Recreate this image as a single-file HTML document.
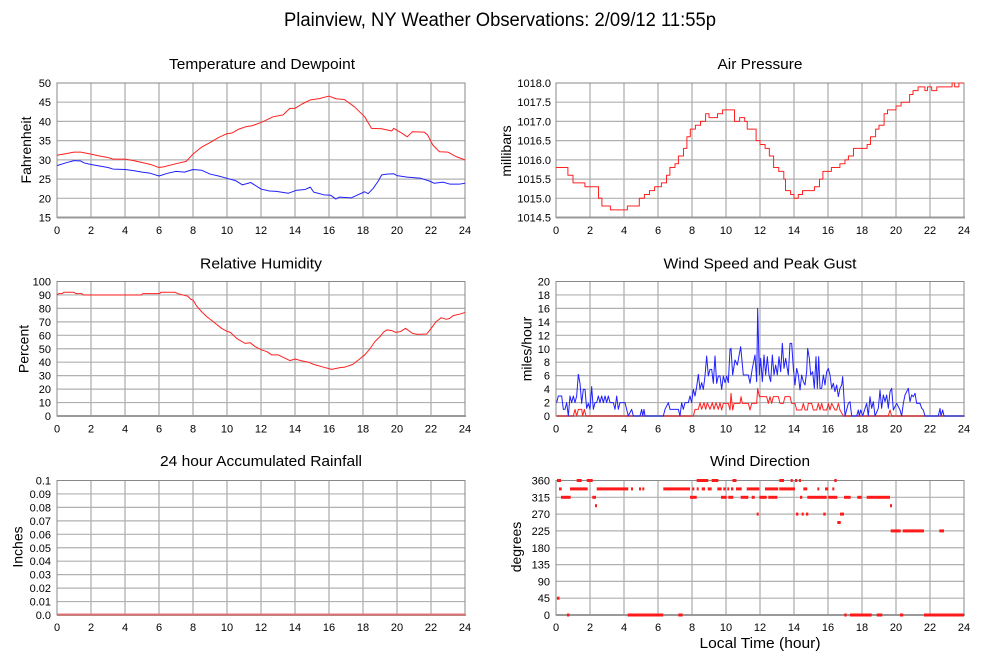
<!DOCTYPE html>
<html><head><meta charset="utf-8"><style>
html,body{margin:0;padding:0;background:#fff;}
svg{display:block;}
text{font-family:"Liberation Sans",Arial,sans-serif;fill:#000;}
.ty{font-size:11px;text-anchor:end;}
.tx{font-size:11px;text-anchor:middle;}
.pt{font-size:15px;text-anchor:middle;}
.ax{font-size:14px;text-anchor:middle;}
.gv{stroke:#999;stroke-width:1;fill:none;}
.gh{stroke:#b0b0b0;stroke-width:1.2;fill:none;}
.fr{stroke:#888;stroke-width:1;fill:none;}
.bt{stroke:#999;stroke-width:2;fill:none;}
.s{fill:none;stroke-width:1;vector-effect:non-scaling-stroke;stroke-linejoin:round;}
.r{stroke:#ff2020;}
.b{stroke:#2020ff;}
</style></head><body>
<svg width="999" height="659" viewBox="0 0 999 659" xmlns="http://www.w3.org/2000/svg">
<rect width="999" height="659" fill="#fff"/>
<text x="500" y="26" style="font-size:19px;text-anchor:middle" textLength="432" lengthAdjust="spacingAndGlyphs">Plainview, NY Weather Observations: 2/09/12 11:55p</text>

<text class="pt" x="262" y="69" textLength="186" lengthAdjust="spacingAndGlyphs">Temperature and Dewpoint</text>
<text class="pt" x="760" y="69" textLength="85" lengthAdjust="spacingAndGlyphs">Air Pressure</text>
<text class="pt" x="261" y="268.5" textLength="122" lengthAdjust="spacingAndGlyphs">Relative Humidity</text>
<text class="pt" x="760" y="268.5" textLength="193" lengthAdjust="spacingAndGlyphs">Wind Speed and Peak Gust</text>
<text class="pt" x="261" y="466" textLength="202" lengthAdjust="spacingAndGlyphs">24 hour Accumulated Rainfall</text>
<text class="pt" x="760" y="466" textLength="100" lengthAdjust="spacingAndGlyphs">Wind Direction</text>
<text class="pt" x="760" y="648" textLength="121" lengthAdjust="spacingAndGlyphs">Local Time (hour)</text>

<text class="ax" transform="translate(31,150) rotate(-90)">Fahrenheit</text>
<text class="ax" transform="translate(511,151) rotate(-90)">millibars</text>
<text class="ax" transform="translate(28.5,349) rotate(-90)">Percent</text>
<text class="ax" transform="translate(531.5,349) rotate(-90)">miles/hour</text>
<text class="ax" transform="translate(22.5,547) rotate(-90)">Inches</text>
<text class="ax" transform="translate(521,547) rotate(-90)">degrees</text>

<path class="gv" d="M91 83V217.5M125 83V217.5M159 83V217.5M193 83V217.5M227 83V217.5M261 83V217.5M295 83V217.5M329 83V217.5M363 83V217.5M397 83V217.5M431 83V217.5"/>
<path class="gv" d="M590 83V217.5M624 83V217.5M658 83V217.5M692 83V217.5M726 83V217.5M760 83V217.5M794 83V217.5M828 83V217.5M862 83V217.5M896 83V217.5M930 83V217.5"/>
<path class="gh" d="M57 102.2H465M57 121.4H465M57 140.6H465M57 159.9H465M57 179.1H465M57 198.3H465"/>
<path class="gh" d="M556 102.2H964M556 121.4H964M556 140.6H964M556 159.9H964M556 179.1H964M556 198.3H964"/>
<path class="gv" d="M91 281.5V416M125 281.5V416M159 281.5V416M193 281.5V416M227 281.5V416M261 281.5V416M295 281.5V416M329 281.5V416M363 281.5V416M397 281.5V416M431 281.5V416"/>
<path class="gv" d="M590 281.5V416M624 281.5V416M658 281.5V416M692 281.5V416M726 281.5V416M760 281.5V416M794 281.5V416M828 281.5V416M862 281.5V416M896 281.5V416M930 281.5V416"/>
<path class="gh" d="M57 294.95H465M57 308.4H465M57 321.85H465M57 335.3H465M57 348.75H465M57 362.2H465M57 375.65H465M57 389.1H465M57 402.55H465"/>
<path class="gh" d="M556 294.95H964M556 308.4H964M556 321.85H964M556 335.3H964M556 348.75H964M556 362.2H964M556 375.65H964M556 389.1H964M556 402.55H964"/>
<path class="gv" d="M91 480.5V615M125 480.5V615M159 480.5V615M193 480.5V615M227 480.5V615M261 480.5V615M295 480.5V615M329 480.5V615M363 480.5V615M397 480.5V615M431 480.5V615"/>
<path class="gv" d="M590 480.5V615M624 480.5V615M658 480.5V615M692 480.5V615M726 480.5V615M760 480.5V615M794 480.5V615M828 480.5V615M862 480.5V615M896 480.5V615M930 480.5V615"/>
<path class="gh" d="M57 493.95H465M57 507.4H465M57 520.85H465M57 534.3H465M57 547.75H465M57 561.2H465M57 574.65H465M57 588.1H465M57 601.55H465"/>
<path class="gh" d="M556 497.3H964M556 514.1H964M556 530.9H964M556 547.75H964M556 564.6H964M556 581.4H964M556 598.2H964"/>

<rect class="fr" x="57" y="83" width="408" height="134.5"/>
<rect class="fr" x="556" y="83" width="408" height="134.5"/>
<rect class="fr" x="57" y="281.5" width="408" height="134.5"/>
<rect class="fr" x="556" y="281.5" width="408" height="134.5"/>
<rect class="fr" x="57" y="480.5" width="408" height="134.5"/>
<rect class="fr" x="556" y="480.5" width="408" height="134.5"/>
<path class="bt" d="M57 217.5H466M556 217.5H965M57 416H466M556 416H965M57 615H466M556 615H965"/>

<g>
<text class="ty" x="51" y="221.5">15</text><text class="ty" x="51" y="202.3">20</text><text class="ty" x="51" y="183.1">25</text><text class="ty" x="51" y="163.9">30</text><text class="ty" x="51" y="144.6">35</text><text class="ty" x="51" y="125.4">40</text><text class="ty" x="51" y="106.2">45</text><text class="ty" x="51" y="87">50</text>
<text class="ty" x="551" y="221.5">1014.5</text><text class="ty" x="551" y="202.3">1015.0</text><text class="ty" x="551" y="183.1">1015.5</text><text class="ty" x="551" y="163.9">1016.0</text><text class="ty" x="551" y="144.6">1016.5</text><text class="ty" x="551" y="125.4">1017.0</text><text class="ty" x="551" y="106.2">1017.5</text><text class="ty" x="551" y="87">1018.0</text>
<text class="ty" x="51" y="420">0</text><text class="ty" x="51" y="406.55">10</text><text class="ty" x="51" y="393.1">20</text><text class="ty" x="51" y="379.65">30</text><text class="ty" x="51" y="366.2">40</text><text class="ty" x="51" y="352.75">50</text><text class="ty" x="51" y="339.3">60</text><text class="ty" x="51" y="325.85">70</text><text class="ty" x="51" y="312.4">80</text><text class="ty" x="51" y="298.95">90</text><text class="ty" x="51" y="285.5">100</text>
<text class="ty" x="550" y="420">0</text><text class="ty" x="550" y="406.55">2</text><text class="ty" x="550" y="393.1">4</text><text class="ty" x="550" y="379.65">6</text><text class="ty" x="550" y="366.2">8</text><text class="ty" x="550" y="352.75">10</text><text class="ty" x="550" y="339.3">12</text><text class="ty" x="550" y="325.85">14</text><text class="ty" x="550" y="312.4">16</text><text class="ty" x="550" y="298.95">18</text><text class="ty" x="550" y="285.5">20</text>
<text class="ty" x="51" y="619">0.0</text><text class="ty" x="51" y="605.55">0.01</text><text class="ty" x="51" y="592.1">0.02</text><text class="ty" x="51" y="578.65">0.03</text><text class="ty" x="51" y="565.2">0.04</text><text class="ty" x="51" y="551.75">0.05</text><text class="ty" x="51" y="538.3">0.06</text><text class="ty" x="51" y="524.85">0.07</text><text class="ty" x="51" y="511.4">0.08</text><text class="ty" x="51" y="497.95">0.09</text><text class="ty" x="51" y="484.5">0.1</text>
<text class="ty" x="550" y="619">0</text><text class="ty" x="550" y="602.2">45</text><text class="ty" x="550" y="585.4">90</text><text class="ty" x="550" y="568.6">135</text><text class="ty" x="550" y="551.75">180</text><text class="ty" x="550" y="534.9">225</text><text class="ty" x="550" y="518.1">270</text><text class="ty" x="550" y="501.3">315</text><text class="ty" x="550" y="484.5">360</text>
</g>
<g>
<text class="tx" x="57" y="234">0</text><text class="tx" x="91" y="234">2</text><text class="tx" x="125" y="234">4</text><text class="tx" x="159" y="234">6</text><text class="tx" x="193" y="234">8</text><text class="tx" x="227" y="234">10</text><text class="tx" x="261" y="234">12</text><text class="tx" x="295" y="234">14</text><text class="tx" x="329" y="234">16</text><text class="tx" x="363" y="234">18</text><text class="tx" x="397" y="234">20</text><text class="tx" x="431" y="234">22</text><text class="tx" x="465" y="234">24</text>
<text class="tx" x="556" y="234">0</text><text class="tx" x="590" y="234">2</text><text class="tx" x="624" y="234">4</text><text class="tx" x="658" y="234">6</text><text class="tx" x="692" y="234">8</text><text class="tx" x="726" y="234">10</text><text class="tx" x="760" y="234">12</text><text class="tx" x="794" y="234">14</text><text class="tx" x="828" y="234">16</text><text class="tx" x="862" y="234">18</text><text class="tx" x="896" y="234">20</text><text class="tx" x="930" y="234">22</text><text class="tx" x="964" y="234">24</text>
<text class="tx" x="57" y="432.5">0</text><text class="tx" x="91" y="432.5">2</text><text class="tx" x="125" y="432.5">4</text><text class="tx" x="159" y="432.5">6</text><text class="tx" x="193" y="432.5">8</text><text class="tx" x="227" y="432.5">10</text><text class="tx" x="261" y="432.5">12</text><text class="tx" x="295" y="432.5">14</text><text class="tx" x="329" y="432.5">16</text><text class="tx" x="363" y="432.5">18</text><text class="tx" x="397" y="432.5">20</text><text class="tx" x="431" y="432.5">22</text><text class="tx" x="465" y="432.5">24</text>
<text class="tx" x="556" y="432.5">0</text><text class="tx" x="590" y="432.5">2</text><text class="tx" x="624" y="432.5">4</text><text class="tx" x="658" y="432.5">6</text><text class="tx" x="692" y="432.5">8</text><text class="tx" x="726" y="432.5">10</text><text class="tx" x="760" y="432.5">12</text><text class="tx" x="794" y="432.5">14</text><text class="tx" x="828" y="432.5">16</text><text class="tx" x="862" y="432.5">18</text><text class="tx" x="896" y="432.5">20</text><text class="tx" x="930" y="432.5">22</text><text class="tx" x="964" y="432.5">24</text>
<text class="tx" x="57" y="631">0</text><text class="tx" x="91" y="631">2</text><text class="tx" x="125" y="631">4</text><text class="tx" x="159" y="631">6</text><text class="tx" x="193" y="631">8</text><text class="tx" x="227" y="631">10</text><text class="tx" x="261" y="631">12</text><text class="tx" x="295" y="631">14</text><text class="tx" x="329" y="631">16</text><text class="tx" x="363" y="631">18</text><text class="tx" x="397" y="631">20</text><text class="tx" x="431" y="631">22</text><text class="tx" x="465" y="631">24</text>
<text class="tx" x="556" y="631">0</text><text class="tx" x="590" y="631">2</text><text class="tx" x="624" y="631">4</text><text class="tx" x="658" y="631">6</text><text class="tx" x="692" y="631">8</text><text class="tx" x="726" y="631">10</text><text class="tx" x="760" y="631">12</text><text class="tx" x="794" y="631">14</text><text class="tx" x="828" y="631">16</text><text class="tx" x="862" y="631">18</text><text class="tx" x="896" y="631">20</text><text class="tx" x="930" y="631">22</text><text class="tx" x="964" y="631">24</text>
</g>

<g transform="translate(57,217.5) scale(17,-3.843) translate(0,-15)">
<polyline class="s r" points="0,31.2 0.5,31.6 1,32 1.4,32 2,31.5 2.5,31 3,30.6 3.3,30.2 4,30.2 4.5,29.8 5,29.3 5.5,28.8 6,28 6.3,28.2 7,29 7.6,29.6 8,31.5 8.5,33.3 9,34.5 9.5,35.8 10,36.8 10.3,37 10.7,38 11.1,38.6 11.5,38.9 12.1,39.9 12.7,41.2 13.3,41.7 13.7,43.4 14,43.4 14.4,44.5 14.9,45.6 15.4,45.9 16,46.6 16.4,45.9 16.9,45.7 17.5,43.8 18.1,41.2 18.5,38.2 19.1,38.1 19.7,37.5 19.8,38.2 20.3,36.9 20.6,36 20.9,37.3 21.6,37.2 21.8,36.5 22.1,33.9 22.5,32.1 23,32 23.5,30.8 24,30"/>
<polyline class="s b" points="0,28.5 0.5,29.2 1,29.8 1.4,29.7 1.6,29.2 2,28.8 2.5,28.4 3,28 3.3,27.6 4,27.5 4.5,27.2 5,26.8 5.5,26.5 6,25.8 6.5,26.5 7,27 7.5,26.8 8,27.5 8.5,27.3 9,26.3 9.5,25.8 10,25.2 10.5,24.6 10.9,23.5 11.4,24.1 12,22.4 12.5,21.9 12.9,21.8 13.6,21.3 14.1,22.1 14.6,22.3 14.9,22.9 15.1,21.6 15.7,20.9 16.1,20.8 16.4,19.8 16.6,20.3 17.3,20.1 17.7,20.9 18.1,21.7 18.3,21.2 18.6,22.6 18.9,24.5 19.1,26.1 19.4,26.3 19.8,26.4 20,25.9 20.6,25.5 21.4,25.2 21.9,24.5 22.2,23.9 22.7,24.2 23.1,23.7 23.7,23.7 24,23.9"/>
</g>

<g transform="translate(556,217.5) scale(17,-38.43) translate(0,-1014.5)">
<polyline class="s r" points="0,1015.8 0.7,1015.8 0.7,1015.6 1,1015.6 1,1015.4 1.7,1015.4 1.7,1015.3 2.5,1015.3 2.5,1015.0 2.7,1015.0 2.7,1014.8 3.2,1014.8 3.2,1014.7 4.2,1014.7 4.2,1014.8 4.9,1014.8 4.9,1015.0 5.2,1015.0 5.2,1015.1 5.5,1015.1 5.5,1015.2 5.8,1015.2 5.8,1015.3 6.2,1015.3 6.2,1015.4 6.5,1015.4 6.5,1015.6 6.7,1015.6 6.7,1015.8 7.0,1015.8 7.0,1015.9 7.2,1015.9 7.2,1016.1 7.5,1016.1 7.5,1016.3 7.7,1016.3 7.7,1016.6 7.9,1016.6 7.9,1016.8 8.2,1016.8 8.2,1016.9 8.5,1016.9 8.5,1017.0 8.8,1017.0 8.8,1017.2 9.0,1017.2 9.0,1017.1 9.5,1017.1 9.5,1017.2 9.8,1017.2 9.8,1017.3 10.5,1017.3 10.5,1017.0 10.8,1017.0 10.8,1017.1 11.1,1017.1 11.1,1017.0 11.25,1017.0 11.25,1016.8 11.77,1016.8 11.77,1016.5 12.0,1016.5 12.0,1016.4 12.3,1016.4 12.3,1016.3 12.55,1016.3 12.55,1016.1 12.8,1016.1 12.8,1015.8 13.1,1015.8 13.1,1015.7 13.4,1015.7 13.4,1015.5 13.5,1015.5 13.5,1015.2 13.8,1015.2 13.8,1015.1 14.0,1015.1 14.0,1015.0 14.25,1015.0 14.25,1015.1 14.5,1015.1 14.5,1015.2 15.2,1015.2 15.2,1015.3 15.5,1015.3 15.5,1015.5 15.7,1015.5 15.7,1015.7 16.2,1015.7 16.2,1015.8 16.7,1015.8 16.7,1015.9 17.0,1015.9 17.0,1016.0 17.2,1016.0 17.2,1016.1 17.5,1016.1 17.5,1016.3 18.3,1016.3 18.3,1016.4 18.5,1016.4 18.5,1016.6 18.8,1016.6 18.8,1016.8 19.0,1016.8 19.0,1016.9 19.3,1016.9 19.3,1017.2 19.5,1017.2 19.5,1017.3 20.0,1017.3 20.0,1017.4 20.3,1017.4 20.3,1017.5 20.8,1017.5 20.8,1017.7 21.0,1017.7 21.0,1017.8 21.3,1017.8 21.3,1017.9 21.7,1017.9 21.7,1017.8 21.85,1017.8 21.85,1017.9 22.1,1017.9 22.1,1017.8 22.4,1017.8 22.4,1017.9 23.3,1017.9 23.3,1018.0 23.45,1018.0 23.45,1017.9 23.7,1017.9 23.7,1018.0 24,1018.0"/>
</g>

<g transform="translate(57,416) scale(17,-1.345)">
<polyline class="s r" points="0,90 0.1,91 0.3,91 0.4,92 1.0,92 1.1,91 1.45,91 1.55,90 4.98,90 5.05,91 6.05,91 6.1,92 6.95,92 7.1,91 7.4,90 7.7,89 7.85,87 8.02,86 8.2,82 8.5,77.6 8.8,74 9.1,71 9.4,68 9.7,65 10.0,63 10.2,62.2 10.57,57.7 11.06,54 11.36,54.5 11.65,51.6 12.04,49.1 12.34,47.9 12.63,45.4 13.02,45.4 13.3,43.6 13.7,41.2 14,42.4 14.4,41 14.8,40 15.1,38.4 15.7,36.2 16.16,34.7 16.65,36 16.9,36.2 17.4,38.4 17.8,42.4 18.1,45.4 18.4,49.8 18.7,55.3 19,59 19.2,62.2 19.4,64 19.7,63.5 19.9,62.2 20.2,62.7 20.5,65.2 20.9,61.5 21.2,60.7 21.75,61 22.04,65.7 22.3,70.1 22.6,73.1 22.9,71.9 23.1,72.6 23.3,74.6 23.7,75.8 24,77"/>
</g>

<g transform="translate(500,270) scale(0.333333)">
<polyline class="s r" points="170,438 220,438 225,418 230,438 235,418 245,418 248,438 253,418 258,438 580,438 585,418 595,418 600,398 605,418 612,398 617,418 622,398 630,418 637,398 642,418 648,398 655,418 660,398 665,420 670,400 685,400 690,420 693,370 698,420 702,400 720,400 723,380 727,400 745,400 750,420 755,400 770,400 773,355 778,380 800,380 805,400 810,380 815,400 820,380 835,380 840,400 850,400 855,380 870,380 875,400 885,400 890,420 905,420 910,400 915,420 922,420 925,400 935,400 940,420 950,420 955,400 960,420 965,400 970,420 980,420 985,400 990,420 995,400 1005,420 1010,420 1015,400 1020,420 1030,438 1165,438 1170,420 1175,438 1392,438"/>
<polyline class="s b" points="170,398 175,378 185,378 190,418 195,418 200,398 205,438 210,378 215,398 220,378 225,398 230,378 235,313 240,340 245,400 250,358 255,358 260,415 265,400 270,418 275,350 280,418 285,398 290,398 295,378 300,398 305,378 310,398 315,378 320,398 325,378 330,398 340,398 345,418 350,378 355,418 360,398 370,398 375,398 380,418 385,438 395,418 400,438 420,438 425,418 428,438 432,418 435,438 490,438 495,418 505,398 510,418 535,418 540,438 545,398 550,418 555,398 565,398 570,378 575,398 580,358 585,378 590,350 595,313 600,358 605,338 610,358 615,318 620,258 625,318 630,298 635,298 640,340 645,258 650,340 655,318 660,318 665,358 670,318 675,338 680,318 685,338 690,238 693,235 698,315 705,270 712,285 722,230 730,315 745,315 750,340 757,295 765,255 770,335 773,115 778,315 782,265 787,335 792,255 797,315 802,260 807,315 812,335 817,255 822,315 827,285 832,315 837,260 842,305 847,220 852,295 857,265 865,315 870,220 875,220 880,295 885,345 890,295 895,315 900,360 905,315 910,335 915,345 920,305 923,235 928,265 932,315 938,305 943,355 948,260 952,355 956,260 960,355 965,355 970,315 975,345 980,305 985,295 990,315 995,355 1000,340 1005,365 1010,345 1015,380 1020,355 1025,345 1028,320 1032,385 1035,438 1045,400 1050,395 1055,438 1070,438 1075,420 1078,438 1082,420 1088,438 1100,400 1105,438 1110,380 1115,415 1120,395 1125,438 1135,415 1140,360 1145,415 1150,375 1155,395 1160,375 1165,415 1170,365 1175,355 1180,420 1190,400 1200,420 1205,438 1210,400 1215,375 1220,365 1225,355 1230,395 1235,375 1240,380 1245,370 1250,400 1260,400 1265,415 1270,420 1275,438 1315,438 1320,415 1323,438 1328,420 1332,438 1392,438"/>
</g>

<path d="M57 614.5H465" stroke="#e07070" stroke-width="2" fill="none"/>

<g fill="#ff1a1a">
<rect x="557" y="479" width="4" height="3"/><rect x="576.7" y="479" width="5" height="3"/><rect x="586.7" y="479" width="6" height="3"/><rect x="696.7" y="479" width="11.6" height="3"/><rect x="711.7" y="479" width="6.6" height="3"/><rect x="732.5" y="479" width="4" height="3"/><rect x="779.3" y="479" width="4.7" height="3"/><rect x="790.7" y="479" width="2" height="3"/><rect x="795" y="479" width="2.3" height="3"/><rect x="799" y="479" width="2" height="3"/><rect x="834.3" y="479" width="2.4" height="3"/>
<rect x="559" y="487.4" width="2.7" height="3"/><rect x="570" y="487.4" width="17.7" height="3"/><rect x="596.7" y="487.4" width="31.6" height="3"/><rect x="631" y="487.4" width="2" height="3"/><rect x="639" y="487.4" width="2" height="3"/><rect x="642.3" y="487.4" width="2" height="3"/><rect x="663.3" y="487.4" width="26.7" height="3"/><rect x="692.3" y="487.4" width="2" height="3"/><rect x="696.7" y="487.4" width="2" height="3"/><rect x="701.7" y="487.4" width="3.3" height="3"/><rect x="707.7" y="487.4" width="4" height="3"/><rect x="717.3" y="487.4" width="4.4" height="3"/><rect x="723.3" y="487.4" width="2.4" height="3"/><rect x="727.3" y="487.4" width="2" height="3"/><rect x="731" y="487.4" width="2.3" height="3"/><rect x="736" y="487.4" width="5.7" height="3"/><rect x="746.7" y="487.4" width="12.6" height="3"/><rect x="765" y="487.4" width="13.3" height="3"/><rect x="779.3" y="487.4" width="15.7" height="3"/><rect x="803.3" y="487.4" width="4" height="3"/><rect x="817.3" y="487.4" width="2" height="3"/><rect x="825" y="487.4" width="3.3" height="3"/><rect x="832.3" y="487.4" width="2" height="3"/>
<rect x="561" y="495.8" width="9.7" height="3"/><rect x="592.3" y="495.8" width="3.7" height="3"/><rect x="690" y="495.8" width="6.7" height="3"/><rect x="721" y="495.8" width="5.7" height="3"/><rect x="728.3" y="495.8" width="5" height="3"/><rect x="740.7" y="495.8" width="7.6" height="3"/><rect x="751.7" y="495.8" width="3" height="3"/><rect x="759.3" y="495.8" width="7.4" height="3"/><rect x="768.3" y="495.8" width="9" height="3"/><rect x="800" y="495.8" width="2.3" height="3"/><rect x="807.3" y="495.8" width="19.4" height="3"/><rect x="828.3" y="495.8" width="9" height="3"/><rect x="844" y="495.8" width="6.7" height="3"/><rect x="857.3" y="495.8" width="4.4" height="3"/><rect x="866.7" y="495.8" width="23.3" height="3"/>
<rect x="595" y="504.2" width="2" height="3"/><rect x="890" y="504.2" width="2" height="3"/>
<rect x="756.7" y="512.6" width="2" height="3"/><rect x="796" y="512.6" width="2.3" height="3"/><rect x="801.7" y="512.6" width="2" height="3"/><rect x="806" y="512.6" width="2.3" height="3"/><rect x="823.3" y="512.6" width="2.4" height="3"/><rect x="840" y="512.6" width="4" height="3"/>
<rect x="837.3" y="521" width="3.4" height="3"/>
<rect x="890.7" y="529.4" width="10" height="3"/><rect x="902.7" y="529.4" width="21.3" height="3"/><rect x="939.3" y="529.4" width="4.7" height="3"/>
<rect x="557" y="596.7" width="2.5" height="3"/>
<rect x="567" y="613.5" width="2.5" height="3"/><rect x="627.7" y="613.5" width="35.6" height="3"/><rect x="678.3" y="613.5" width="4.4" height="3"/><rect x="844.3" y="613.5" width="2.4" height="3"/><rect x="850" y="613.5" width="21.7" height="3"/><rect x="876.7" y="613.5" width="5.6" height="3"/><rect x="900" y="613.5" width="3.3" height="3"/><rect x="924" y="613.5" width="40" height="3"/>
</g>
</svg>
</body></html>
